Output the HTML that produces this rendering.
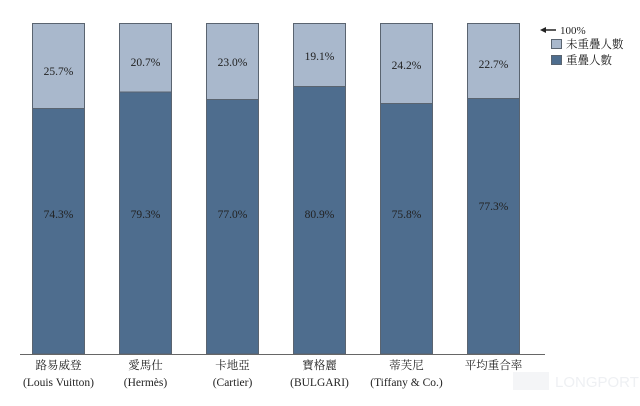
<!DOCTYPE html>
<html><head><meta charset="utf-8"><style>
body{margin:0;background:#fff;}
svg text{font-family:"Liberation Serif","Noto Serif CJK SC",serif;fill:#222;}
</style></head><body>
<svg width="640" height="401" xmlns="http://www.w3.org/2000/svg">
<g stroke="#5a6470" stroke-width="1">
<rect x="32.5" y="23.5" width="52" height="85" fill="#a9b8cc"/><rect x="32.5" y="108.5" width="52" height="245.5" fill="#4e6d8e"/>
<rect x="119.5" y="23.5" width="52" height="68.5" fill="#a9b8cc"/><rect x="119.5" y="92" width="52" height="262" fill="#4e6d8e"/>
<rect x="206.5" y="23.5" width="52" height="76" fill="#a9b8cc"/><rect x="206.5" y="99.5" width="52" height="254.5" fill="#4e6d8e"/>
<rect x="293.5" y="23.5" width="52" height="63" fill="#a9b8cc"/><rect x="293.5" y="86.5" width="52" height="267.5" fill="#4e6d8e"/>
<rect x="380.5" y="23.5" width="52" height="80" fill="#a9b8cc"/><rect x="380.5" y="103.5" width="52" height="250.5" fill="#4e6d8e"/>
<rect x="467.5" y="23.5" width="52" height="75" fill="#a9b8cc"/><rect x="467.5" y="98.5" width="52" height="255.5" fill="#4e6d8e"/>
</g>
<line x1="20" y1="354.5" x2="545" y2="354.5" stroke="#666" stroke-width="1"/>
<g font-size="11.5" text-anchor="middle">
<text x="58.5" y="75">25.7%</text><text x="58.5" y="218">74.3%</text>
<text x="145.5" y="66">20.7%</text><text x="145.5" y="218">79.3%</text>
<text x="232.5" y="66">23.0%</text><text x="232.5" y="218">77.0%</text>
<text x="319.5" y="60">19.1%</text><text x="319.5" y="218">80.9%</text>
<text x="406.5" y="69">24.2%</text><text x="406.5" y="218">75.8%</text>
<text x="493.5" y="68">22.7%</text><text x="493.5" y="210">77.3%</text>
</g>
<g font-size="11.5" text-anchor="middle">
<text x="58.5" y="369">路易威登</text><text x="58.5" y="386">(Louis Vuitton)</text>
<text x="145.5" y="369">愛馬仕</text><text x="145.5" y="386">(Hermès)</text>
<text x="232.5" y="369">卡地亞</text><text x="232.5" y="386">(Cartier)</text>
<text x="319.5" y="369">寶格麗</text><text x="319.5" y="386">(BULGARI)</text>
<text x="406.5" y="369">蒂芙尼</text><text x="406.5" y="386">(Tiffany &amp; Co.)</text>
<text x="493.5" y="369">平均重合率</text>
</g>
<line x1="542" y1="30" x2="556" y2="30" stroke="#222" stroke-width="1.5"/>
<polygon points="540,30 546,27 546,33" fill="#222"/>
<text x="560" y="34" font-size="11">100%</text>
<rect x="551.5" y="39.5" width="10" height="9" fill="#a9b8cc" stroke="#5a6470"/>
<text x="566" y="48" font-size="11.5">未重疊人數</text>
<rect x="551.5" y="55.5" width="10" height="9" fill="#4e6d8e" stroke="#5a6470"/>
<text x="566" y="64" font-size="11.5">重疊人數</text>
<rect x="513" y="372" width="36" height="18" fill="#f4f5f7"/>
<text x="555" y="387" font-size="15" style="fill:#eef0f3;font-family:'Liberation Sans',sans-serif">LONGPORT</text>
</svg>
</body></html>
